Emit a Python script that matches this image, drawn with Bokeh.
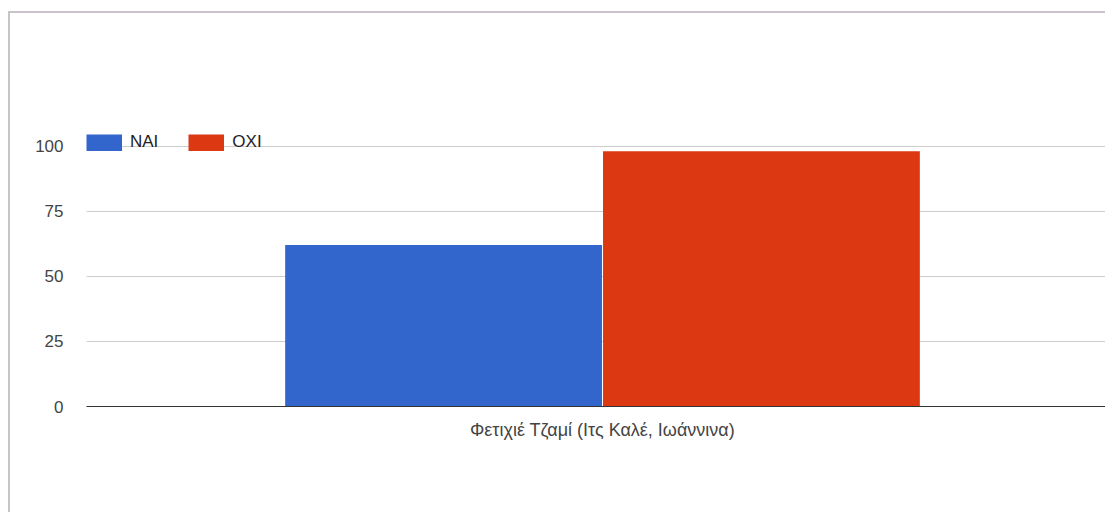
import numpy as np
from bokeh.plotting import figure
from bokeh.models import Range1d, FixedTicker, Legend, LegendItem, ColumnDataSource
from bokeh.embed import file_html
from bokeh.resources import INLINE

categories = ["Φετιχιέ Τζαμί (Ιτς Καλέ, Ιωάννινα)"]
series = ["NAI", "OXI"]
nai_values = [62]
oxi_values = [98]
colors = ["#3366cc", "#dc3912"]
y_ticks = [0, 25, 50, 75, 100]

FONT = "Liberation Sans"
TEXT = "#444444"

p = figure(width=1105, height=512, output_backend="svg", toolbar_location=None,
           x_range=Range1d(-0.5, 0.4874), y_range=Range1d(0, 105.2),
           min_border_left=86, min_border_right=0, min_border_top=132, min_border_bottom=106)
p.outline_line_color = None
p.background_fill_color = "white"
p.border_fill_color = None
p.styles = {"background-color": "white",
            "box-shadow": "inset 8px 11px 0 0 white, inset 10px 13px 0 0 #c8c4c9"}

x_idx = list(range(len(categories)))
bw = 0.307
off = 0.1540
src_nai = ColumnDataSource(dict(x=[i - off for i in x_idx], top=nai_values))
src_oxi = ColumnDataSource(dict(x=[i + off for i in x_idx], top=oxi_values))
r1 = p.vbar(x="x", top="top", bottom=0, width=bw, source=src_nai,
            fill_color=colors[0], line_color=None)
r2 = p.vbar(x="x", top="top", bottom=0, width=bw, source=src_oxi,
            fill_color=colors[1], line_color=None)

# legend swatches (full-size, no inset); NaN point so nothing is drawn in the plot
nan = np.array([np.nan])
l1 = p.line(x=nan, y=nan, line_width=17, line_color=colors[0])
l2 = p.line(x=nan, y=nan, line_width=17, line_color=colors[1])

# axes
xa = p.xaxis[0]
xa.ticker = FixedTicker(ticks=x_idx)
xa.major_label_overrides = {i: c for i, c in zip(x_idx, categories)}
xa.axis_line_color = "#333333"
xa.axis_line_width = 1
xa.major_tick_line_color = None
xa.minor_tick_line_color = None
xa.major_label_text_font = FONT
xa.major_label_text_font_size = "18px"
xa.major_label_text_color = TEXT
xa.major_label_standoff = 7

ya = p.yaxis[0]
ya.ticker = FixedTicker(ticks=y_ticks)
ya.axis_line_color = None
ya.major_tick_line_color = None
ya.minor_tick_line_color = None
ya.major_label_text_font = FONT
ya.major_label_text_font_size = "17px"
ya.major_label_text_color = TEXT
ya.major_label_standoff = 17

p.xgrid.grid_line_color = None
p.ygrid.grid_line_color = "#cccccc"
p.ygrid.ticker = FixedTicker(ticks=y_ticks[1:])

legend = Legend(items=[LegendItem(label=series[0], renderers=[l1]),
                       LegendItem(label=series[1], renderers=[l2])],
                location="top_left", orientation="horizontal",
                glyph_width=36, glyph_height=17, label_standoff=8, spacing=30,
                padding=0, margin=0, border_line_color=None, background_fill_alpha=0,
                label_text_font=FONT, label_text_font_size="17px", label_text_color="#222222")
p.add_layout(legend, "center")

open("out.html", "w").write(file_html(p, INLINE))
